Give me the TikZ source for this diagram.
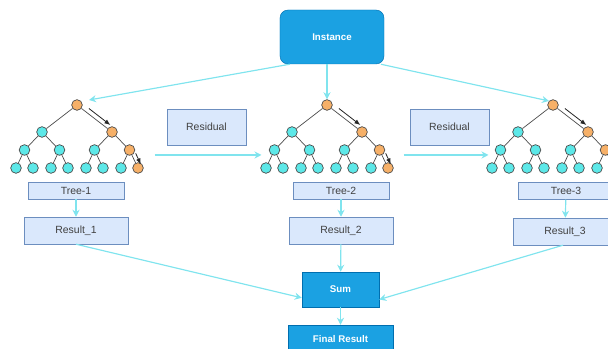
\documentclass[tikz,border=0pt]{standalone}
\usepackage{fontspec}
\setmainfont{Liberation Sans}
\usepackage{tikz}
\usetikzlibrary{arrows.meta,positioning}

\definecolor{boxfill}{HTML}{DAE8FC}
\definecolor{boxline}{HTML}{6C8EBF}
\definecolor{dfill}{HTML}{1BA1E2}
\definecolor{dline}{HTML}{006EAF}
\definecolor{flowcol}{RGB}{128,228,238}
\definecolor{cyannode}{RGB}{92,232,232}
\definecolor{orangenode}{RGB}{246,176,104}

\begin{document}
\begin{tikzpicture}[x=0.03cm,y=-0.03cm,>={Stealth[length=6pt,width=6pt]}]
\tikzstyle{lbox}=[draw=boxline, fill=boxfill, inner sep=0pt, text=black!75,
font=\fontsize{8.9}{10}\selectfont]
\tikzstyle{dbox}=[draw=dline, fill=dfill, inner sep=0pt, text=white,
font=\fontsize{8.3}{10}\selectfont\bfseries]
\tikzstyle{cnode}=[circle, draw=black!70, fill=cyannode, minimum size=0.32cm, inner sep=0pt, line width=0.6pt]
\tikzstyle{onode}=[cnode, fill=orangenode]
\tikzstyle{edge}=[draw=black!70, line width=0.6pt]
\tikzstyle{flow}=[->, draw=flowcol, line width=1pt]
\tikzstyle{hint}=[-{Latex[length=5pt,width=4pt]}, black!85, line width=0.7pt]

\clip (0,0) rectangle (608,349);

% input
\node[dbox, rounded corners=0.24cm, minimum width=3.12cm, minimum height=1.62cm] (inst) at (332,37) {Instance};

% trees
\foreach \t/\x in {1/77,2/327,3/553}{
  \node[onode] (t\t-r) at (\x,105) {};
  \node[cnode] (t\t-a1) at (\x-35,132) {};
  \node[onode] (t\t-a2) at (\x+35,132) {};
  \foreach \i/\dx in {1/-52.5,2/-17.5,3/17.5}
    \node[cnode] (t\t-b\i) at (\x+\dx,150) {};
  \node[onode] (t\t-b4) at (\x+52.5,150) {};
  \foreach \i/\dx in {1/-61,2/-44,3/-26,4/-9,5/9,6/26,7/44}
    \node[cnode] (t\t-c\i) at (\x+\dx,168) {};
  \node[onode] (t\t-c8) at (\x+61,168) {};

  \draw[edge] (t\t-r) -- (t\t-a1) (t\t-r) -- (t\t-a2);
  \draw[edge] (t\t-a1) -- (t\t-b1) (t\t-a1) -- (t\t-b2) (t\t-a2) -- (t\t-b3) (t\t-a2) -- (t\t-b4);
  \foreach \i in {1,...,4}{
    \pgfmathtruncatemacro\j{2*\i-1}
    \pgfmathtruncatemacro\k{2*\i}
    \draw[edge] (t\t-b\i) -- (t\t-c\j) (t\t-b\i) -- (t\t-c\k);
  }

  % path of the sample
  \draw[hint, transform canvas={xshift=2.4pt,yshift=3pt}, shorten <=5pt] (t\t-r) -- (t\t-a2);
  \draw[hint, transform canvas={xshift=3.2pt,yshift=1.5pt}, shorten >=-3pt] (t\t-b4) -- (t\t-c8);
}

% residual boxes
\node[lbox, minimum width=2.37cm, minimum height=1.08cm] (res1) at (206.5,127) {Residual};
\node[lbox, minimum width=2.37cm, minimum height=1.08cm] (res2) at (449.5,127) {Residual};

% tree labels and results
\node[lbox, minimum width=2.88cm, minimum height=0.51cm] (tree1) at (76,190.5) {Tree-1};
\node[lbox, minimum width=2.88cm, minimum height=0.51cm] (tree2) at (341,190.5) {Tree-2};
\node[lbox, minimum width=2.88cm, minimum height=0.51cm] (tree3) at (566,191) {Tree-3};
\node[lbox, minimum width=3.12cm, minimum height=0.81cm] (out1) at (76,230.5) {Result\_1};
\node[lbox, minimum width=3.12cm, minimum height=0.81cm] (out2) at (341,230.5) {Result\_2};
\node[lbox, minimum width=3.12cm, minimum height=0.81cm] (out3) at (565,231.5) {Result\_3};

% sum
\node[dbox, minimum width=2.31cm, minimum height=1.05cm] (sum) at (340.5,289.5) {Sum};
\node[dbox, minimum width=3.15cm, minimum height=0.84cm] (final) at (340.5,339) {Final Result};

\draw[flow] ([xshift=0.3cm]inst.south west) -- ([shift={(12,-5)}]t1-r.center);
\draw[flow] (inst.south -| t2-r) -- (t2-r.north);
\draw[flow] ([xshift=-0.1cm]inst.south east) -- (t3-r.north west);

\draw[flow] ([shift={(25,5)}]t1-b4.center) -- ([shift={(-13,5)}]t2-b1.center);
\draw[flow] ([shift={(24,5)}]t2-b4.center) -- ([shift={(-12,5)}]t3-b1.center);

\draw[flow] (tree1) -- (out1);
\draw[flow] (tree2) -- (out2);
\draw[flow] (tree3) -- (out3);

\draw[flow] (out1.south) -- ([yshift=-0.25cm]sum.west);
\draw[flow] (out2) -- (sum);
\draw[flow] ([xshift=-0.06cm]out3.south) -- ([yshift=-0.3cm]sum.east);
\draw[flow] (sum) -- (final);

\end{tikzpicture}
\end{document}
